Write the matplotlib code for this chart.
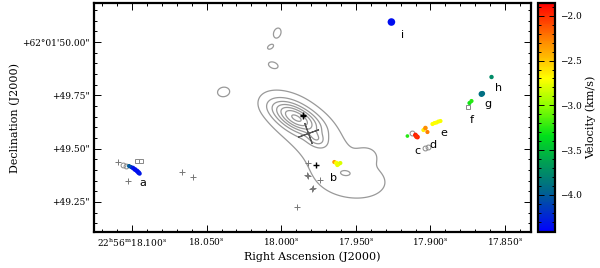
import matplotlib
matplotlib.use('Agg')
import matplotlib.pyplot as plt
import numpy as np
from matplotlib.colors import LinearSegmentedColormap

plt.rcParams['font.family'] = 'DejaVu Serif'
plt.rcParams['mathtext.default'] = 'regular'

# --- maser spots: RA (s, 22h56m), Dec (arcsec, +62d01m), velocity (km/s), size
spot_ra = [18.10201, 18.10067, 18.09933, 18.09799, 18.09664, 18.09564, 18.09497,
           17.96443, 17.96309, 17.96174, 17.96040, 17.96242,
           17.91544, 17.91007, 17.90873, 17.90940,
           17.90470, 17.90336, 17.90202,
           17.89866, 17.89731, 17.89597, 17.89463, 17.89329,
           17.87383, 17.87249, 17.86577, 17.86510, 17.85906, 17.92617]
spot_dec = [49.4184, 49.4137, 49.4090, 49.4020, 49.3949, 49.3879, 49.3832,
            49.4372, 49.4325, 49.4278, 49.4325, 49.4231,
            49.5591, 49.5638, 49.5544, 49.5568,
            49.5872, 49.5966, 49.5779,
            49.6154, 49.6201, 49.6224, 49.6271, 49.6295,
            49.7139, 49.7233, 49.7561, 49.7585, 49.8359, 50.0938]
spot_vel = [-4.0, -4.1, -4.3, -4.35, -4.35, -4.35, -4.3,
            -2.35, -2.7, -2.75, -2.8, -2.75,
            -3.25, -1.95, -1.95, -2.0,
            -2.65, -2.3, -2.25,
            -2.7, -2.7, -2.7, -2.72, -2.72,
            -3.3, -3.25, -3.9, -3.9, -3.75, -4.35]
spot_size = [9, 9, 11, 12, 12, 12, 10,
             9, 11, 11, 9, 9,
             7, 12, 12, 12,
             9, 11, 9,
             9, 9, 9, 9, 9,
             9, 9, 18, 14, 10, 30]

# open circles / squares (other epoch)
ocirc_ra = [18.10604, 18.10403, 17.91208, 17.90336, 17.90134]
ocirc_dec = [49.4231, 49.4184, 49.5732, 49.5028, 49.5099]
osq_ra = [18.09664, 18.09396, 17.87450]
osq_dec = [49.4419, 49.4419, 49.6951]

# small crosses (continuum / other sources)
plus_ra = [18.10940, 18.10268, 18.06644, 18.05906, 17.98188, 17.98255, 17.98188,
           17.97383, 17.97853, 17.97920, 17.98940]
plus_dec = [49.4372, 49.3481, 49.3903, 49.3668, 49.4325, 49.3762, 49.3715,
            49.3528, 49.3152, 49.3105, 49.2261]
bplus_ra = [17.97651, 17.98524, 17.98524]
bplus_dec = [49.4231, 49.6529, 49.6600]
bigx_ra = [17.98188]
bigx_dec = [49.5732]

# feature labels
lab_text = ['a', 'b', 'c', 'd', 'e', 'f', 'g', 'h', 'i']
lab_ra = [18.09262, 17.96510, 17.90873, 17.89866, 17.89128, 17.87248, 17.86175, 17.85436, 17.91879]
lab_dec = [49.3387, 49.3621, 49.4888, 49.5169, 49.5732, 49.6342, 49.7092, 49.7842, 50.0328]

# continuum emission model: gaussian components (RA s, Dec ", sigma maj/min ", angle deg, amp)
comp_ra = [17.98993, 17.97651, 17.98389, 17.95168, 17.94228, 17.95705,
           18.00268, 18.00738, 18.00537, 18.03893, 18.00000]
comp_dec = [49.6435, 49.5450, 49.6013, 49.3481, 49.4700, 49.3856,
            50.0422, 49.9765, 49.8921, 49.7655, 49.7000]
comp_smaj = [0.080, 0.030, 0.200, 0.170, 0.035, 0.0235, 0.033, 0.016, 0.023, 0.033, 0.060]
comp_smin = [0.036, 0.020, 0.095, 0.088, 0.028, 0.0117, 0.023, 0.010, 0.014, 0.026, 0.030]
comp_ang = [-27, -30, -40, -5, 0, -5, 70, 30, -20, 10, 0]
comp_amp = [5.6, 1.8, 1.7, 1.3, 0.9, 0.45, 1.3, 1.3, 1.3, 1.3, 0.35]
cont_levels = [1, 2, 3, 4, 5, 6, 7]

vmin, vmax = -4.413, -1.858
cmap = LinearSegmentedColormap.from_list('vel', [
    (0.0, (0.0, 0.0, 1.0)),
    (0.18, (0.0, 0.40, 0.55)),
    (0.30, (0.0, 0.62, 0.33)),
    (0.42, (0.0, 0.88, 0.10)),
    (0.55, (0.55, 1.0, 0.0)),
    (0.67, (1.0, 1.0, 0.0)),
    (0.83, (1.0, 0.55, 0.0)),
    (1.0, (1.0, 0.0, 0.0))])

fig = plt.figure(figsize=(6.0, 2.68), dpi=100)
ax = fig.add_axes([0.1567, 0.1343, 0.7283, 0.8545])
cax = fig.add_axes([0.8967, 0.1343, 0.0283, 0.8545])

# continuum contours
kra = 15 * np.cos(np.radians(62.03))
gx = np.linspace(18.13, 17.83, 500)
gy = np.linspace(49.10, 50.19, 450)
X, Y = np.meshgrid(gx, gy)
Z = np.zeros_like(X)
for r, d, sa, sb, ang, amp in zip(comp_ra, comp_dec, comp_smaj, comp_smin, comp_ang, comp_amp):
    u = -(X - r) * kra
    v = Y - d
    t = np.radians(ang)
    a = u * np.cos(t) + v * np.sin(t)
    b = -u * np.sin(t) + v * np.cos(t)
    Z += amp * np.exp(-0.5 * ((a / sa) ** 2 + (b / sb) ** 2))
ax.contour(X, Y, Z, levels=cont_levels, colors='#999999', linewidths=0.9)

ax.plot(plus_ra, plus_dec, '+', color='#777777', ms=4, mew=0.7)
ax.plot(bplus_ra, bplus_dec, '+', color='black', ms=5, mew=1.0)
ax.plot(bigx_ra, bigx_dec, marker=(4, 2, 20), color='#555555', ms=16, mew=0.8, ls='none')
ax.plot(ocirc_ra, ocirc_dec, 'o', mfc='none', mec='#888888', ms=3.5, mew=0.7)
ax.plot(osq_ra, osq_dec, 's', mfc='none', mec='#888888', ms=3.5, mew=0.7)

sc = ax.scatter(spot_ra, spot_dec, c=spot_vel, s=spot_size, cmap=cmap,
                vmin=vmin, vmax=vmax, edgecolors='none', zorder=5)

for t, r, d in zip(lab_text, lab_ra, lab_dec):
    ax.text(r, d, t, fontsize=8, family='DejaVu Sans', ha='center', va='center')

ax.set_xlim(18.1255, 17.8326)
ax.set_ylim(49.109, 50.183)

xt = [18.10, 18.05, 18.00, 17.95, 17.90, 17.85]
xl = [r'22$^{h}$56$^{m}$18.100$^{s}$', r'18.050$^{s}$', r'18.000$^{s}$',
      r'17.950$^{s}$', r'17.900$^{s}$', r'17.850$^{s}$']
ax.set_xticks(xt)
ax.set_xticklabels(xl)
ax.set_xticks(np.arange(17.84, 18.125, 0.01), minor=True)
yt = [49.25, 49.50, 49.75, 50.00]
yl = ['+49.25"', '+49.50"', '+49.75"', '+62\u00b001\'50.00"']
ax.set_yticks(yt)
ax.set_yticklabels(yl)
ax.set_yticks(np.arange(49.15, 50.18, 0.05), minor=True)
ax.tick_params(which='both', direction='in', top=True, right=True, labelsize=6.5, width=0.7)
ax.tick_params(which='major', length=5, pad=3)
ax.tick_params(which='minor', length=2.5)
for s in ax.spines.values():
    s.set_linewidth(1.6)
ax.set_xlabel('Right Ascension (J2000)', fontsize=8, labelpad=2)
ax.set_ylabel('Declination (J2000)', fontsize=8, labelpad=2)

cb = fig.colorbar(sc, cax=cax)
cb.set_ticks([-2.0, -2.5, -3.0, -3.5, -4.0])
cb.set_ticklabels(['\u22122.0', '\u22122.5', '\u22123.0', '\u22123.5', '\u22124.0'])
cax.set_yticks(np.arange(-4.4, -1.85, 0.1), minor=True)
cax.tick_params(which='both', direction='in', left=True, right=True, labelsize=6.5, width=0.7)
cax.tick_params(which='major', length=4)
cax.tick_params(which='minor', length=2)
cb.outline.set_linewidth(1.6)
cb.set_label('Velocity (km/s)', fontsize=8, labelpad=3)

fig.savefig('out.png', dpi=100)
plt.close(fig)
